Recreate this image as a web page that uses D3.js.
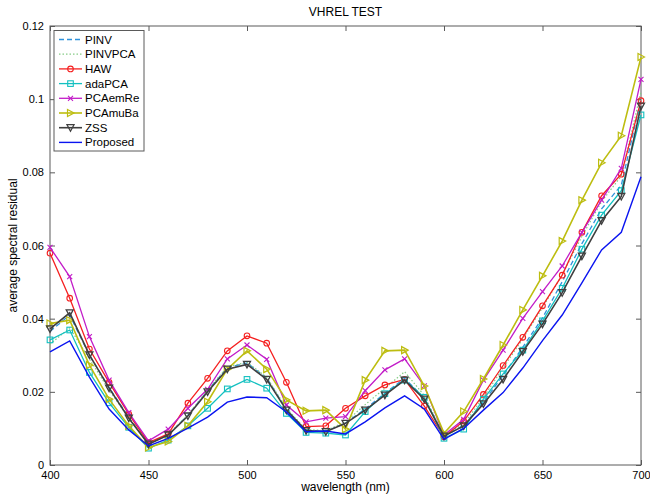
<!DOCTYPE html>
<html><head><meta charset="utf-8">
<script src="https://cdn.jsdelivr.net/npm/d3@7"></script>
<style>body{margin:0;background:#fff}svg{font-family:Arial,"Liberation Sans",Helvetica,sans-serif}</style>
</head><body><svg id="c" width="650" height="497"></svg>
<script>
const wavelengths = d3.range(400, 701, 10);
const xTicks = [400,450,500,550,600,650,700];
const yTicks = [0,0.02,0.04,0.06,0.08,0.1,0.12];
const yTickLabels = ["0","0.02","0.04","0.06","0.08","0.1","0.12"];
const seriesNames = ["PINV","PINVPCA","HAW","adaPCA","PCAemRe","PCAmuBa","ZSS","Proposed"];

const PINV     = [0.0365,0.0410,0.0300,0.0212,0.0130,0.0058,0.0083,0.0136,0.0203,0.0266,0.0279,0.0238,0.0152,0.0095,0.0092,0.0115,0.0153,0.0196,0.0237,0.0183,0.0080,0.0108,0.0172,0.0245,0.0322,0.0402,0.0501,0.0605,0.0700,0.0765,0.1000];
const PINVPCA  = [0.0330,0.0375,0.0290,0.0205,0.0128,0.0058,0.0084,0.0137,0.0205,0.0268,0.0281,0.0240,0.0155,0.0097,0.0094,0.0118,0.0165,0.0210,0.0255,0.0190,0.0081,0.0112,0.0185,0.0265,0.0345,0.0430,0.0520,0.0625,0.0720,0.0790,0.1020];
const HAW      = [0.0579,0.0456,0.0317,0.0226,0.0139,0.0061,0.0085,0.0169,0.0237,0.0312,0.0353,0.0333,0.0226,0.0105,0.0107,0.0155,0.0189,0.0219,0.0234,0.0161,0.0077,0.0120,0.0193,0.0272,0.0349,0.0435,0.0519,0.0636,0.0736,0.0795,0.0996];
const adaPCA   = [0.0342,0.0369,0.0253,0.0170,0.0103,0.0046,0.0068,0.0107,0.0155,0.0208,0.0234,0.0210,0.0141,0.0089,0.0087,0.0082,0.0146,0.0195,0.0232,0.0185,0.0073,0.0098,0.0180,0.0249,0.0314,0.0394,0.0483,0.0590,0.0683,0.0750,0.0957];
const PCAemRe  = [0.0595,0.0515,0.0351,0.0232,0.0143,0.0066,0.0098,0.0155,0.0207,0.0290,0.0328,0.0289,0.0164,0.0118,0.0128,0.0132,0.0203,0.0260,0.0290,0.0216,0.0082,0.0125,0.0232,0.0314,0.0401,0.0474,0.0544,0.0636,0.0724,0.0811,0.1054];
const PCAmuBa  = [0.0387,0.0396,0.0273,0.0180,0.0107,0.0048,0.0064,0.0107,0.0173,0.0262,0.0312,0.0262,0.0178,0.0148,0.0150,0.0098,0.0232,0.0312,0.0314,0.0216,0.0087,0.0146,0.0235,0.0328,0.0424,0.0517,0.0612,0.0724,0.0826,0.0900,0.1115];
const ZSS      = [0.0372,0.0416,0.0301,0.0210,0.0128,0.0057,0.0082,0.0134,0.0200,0.0262,0.0275,0.0234,0.0150,0.0094,0.0091,0.0114,0.0150,0.0191,0.0232,0.0180,0.0079,0.0107,0.0167,0.0234,0.0310,0.0385,0.0471,0.0571,0.0668,0.0734,0.0981];
const Proposed = [0.0309,0.0339,0.0240,0.0153,0.0096,0.0052,0.0073,0.0101,0.0131,0.0172,0.0186,0.0184,0.0145,0.0091,0.0093,0.0085,0.0118,0.0156,0.0189,0.0153,0.0070,0.0100,0.0150,0.0198,0.0265,0.0340,0.0410,0.0498,0.0588,0.0636,0.0788];

const seriesData = [PINV,PINVPCA,HAW,adaPCA,PCAemRe,PCAmuBa,ZSS,Proposed];
const styles = [
  {color:"#2e92dc", dash:"5,3", marker:null, w:1.3},
  {color:"#86cc86", dash:"1.5,2", marker:null, w:1.2},
  {color:"#f52020", dash:null, marker:"circle", w:1.3},
  {color:"#12c0c0", dash:null, marker:"square", w:1.3},
  {color:"#c21cc8", dash:null, marker:"x", w:1.3},
  {color:"#bdbd10", dash:null, marker:"tri", w:1.6},
  {color:"#3f3f3f", dash:null, marker:"dtri", w:1.6},
  {color:"#0a14f0", dash:null, marker:null, w:1.4}
];

const svg = d3.select("#c");
const L=50, R=641, T=26, B=465;
const x = d3.scaleLinear().domain([400,700]).range([L,R]);
const y = d3.scaleLinear().domain([0,0.12]).range([B,T]);
const axisColor = "#5a5a5a";

svg.append("rect").attr("x",L).attr("y",T).attr("width",R-L).attr("height",B-T)
  .attr("fill","none").attr("stroke",axisColor).attr("stroke-width",1);

function styleAxis(g){
  g.select(".domain").remove();
  g.selectAll(".tick line").attr("stroke",axisColor);
  g.selectAll(".tick text").attr("fill","#000").attr("font-size","11px");
}
svg.append("g").attr("transform",`translate(0,${B})`)
  .call(d3.axisBottom(x).tickValues(xTicks).tickSize(-5).tickPadding(6.5).tickFormat(d3.format("d")))
  .call(styleAxis);
svg.append("g").attr("transform",`translate(0,${T})`)
  .call(d3.axisTop(x).tickValues(xTicks).tickSize(-5).tickFormat(""))
  .call(styleAxis);
svg.append("g").attr("transform",`translate(${L},0)`)
  .call(d3.axisLeft(y).tickValues(yTicks).tickSize(-5).tickPadding(6).tickFormat((d,i)=>yTickLabels[i]))
  .call(styleAxis);
svg.append("g").attr("transform",`translate(${R},0)`)
  .call(d3.axisRight(y).tickValues(yTicks).tickSize(-5).tickFormat(""))
  .call(styleAxis);

svg.append("text").attr("x",(L+R)/2).attr("y",16).attr("text-anchor","middle")
  .attr("font-size","12px").text("VHREL TEST");
svg.append("text").attr("x",(L+R)/2).attr("y",491).attr("text-anchor","middle")
  .attr("font-size","12px").text("wavelength (nm)");
svg.append("text").attr("transform",`translate(17,${(T+B)/2}) rotate(-90)`).attr("text-anchor","middle")
  .attr("font-size","12px").text("average spectral residual");

function drawMarker(g, type, cx, cy, color){
  if(type==="circle"){
    g.append("circle").attr("cx",cx).attr("cy",cy).attr("r",2.8).attr("fill","none").attr("stroke",color).attr("stroke-width",1.1);
  } else if(type==="square"){
    g.append("rect").attr("x",cx-2.8).attr("y",cy-2.8).attr("width",5.6).attr("height",5.6).attr("fill","none").attr("stroke",color).attr("stroke-width",1.1);
  } else if(type==="x"){
    g.append("path").attr("d",`M${cx-2.5},${cy-2.5}L${cx+2.5},${cy+2.5}M${cx-2.5},${cy+2.5}L${cx+2.5},${cy-2.5}`).attr("stroke",color).attr("stroke-width",1.1);
  } else if(type==="tri"){
    g.append("path").attr("d",`M${cx+3.5},${cy}L${cx-3},${cy-3.5}L${cx-3},${cy+3.5}Z`).attr("fill","none").attr("stroke",color).attr("stroke-width",1.2);
  } else if(type==="dtri"){
    g.append("path").attr("d",`M${cx},${cy+3.5}L${cx-3.5},${cy-3}L${cx+3.5},${cy-3}Z`).attr("fill","none").attr("stroke",color).attr("stroke-width",1.3);
  }
}

const line = d3.line().x((d,i)=>x(wavelengths[i])).y(d=>y(d));
const plot = svg.append("g");
seriesData.forEach((data,k)=>{
  const s = styles[k];
  const g = plot.append("g");
  g.append("path").datum(data).attr("d",line).attr("fill","none")
    .attr("stroke",s.color).attr("stroke-width",s.w)
    .attr("stroke-dasharray",s.dash);
  if(s.marker){
    data.forEach((v,i)=>drawMarker(g,s.marker,x(wavelengths[i]),y(v),s.color));
  }
});

const lg = svg.append("g");
lg.append("rect").attr("x",54).attr("y",30.5).attr("width",90).attr("height",120.5)
  .attr("fill","#fff").attr("stroke",axisColor).attr("stroke-width",1);
seriesNames.forEach((name,k)=>{
  const s = styles[k];
  const ly = 39.5 + k*14.7;
  lg.append("line").attr("x1",59).attr("x2",82).attr("y1",ly).attr("y2",ly)
    .attr("stroke",s.color).attr("stroke-width",s.w).attr("stroke-dasharray",s.dash);
  if(s.marker) drawMarker(lg,s.marker,70.5,ly,s.color);
  lg.append("text").attr("x",85).attr("y",ly+4).attr("font-size","11.5px").text(name);
});
</script></body></html>
